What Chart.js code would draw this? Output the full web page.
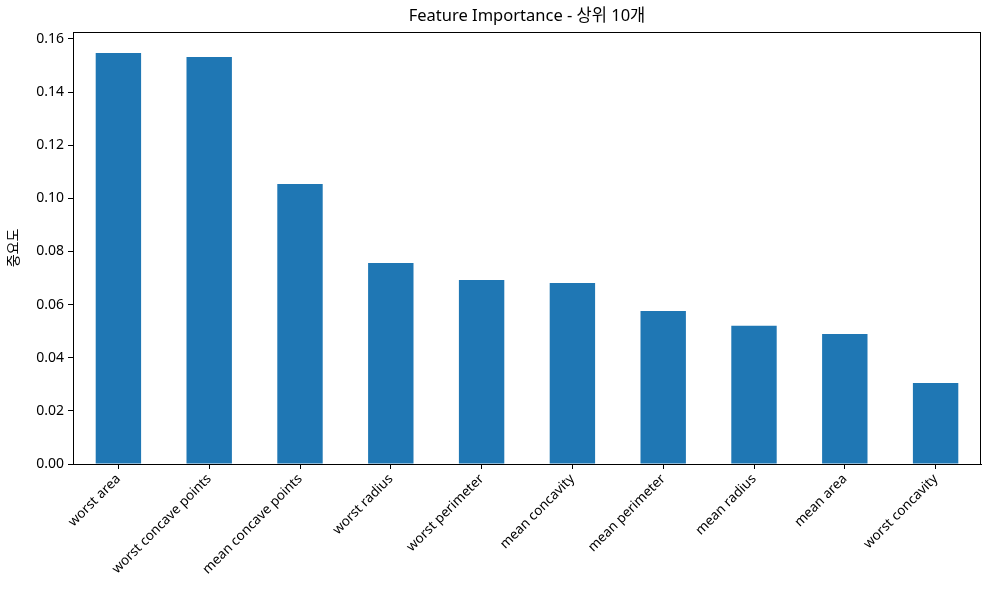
<!DOCTYPE html>
<html>
<head>
<meta charset="utf-8">
<script src="https://cdn.jsdelivr.net/npm/chart.js@4.4.0/dist/chart.umd.min.js"></script>
<style>
    html, body { margin: 0; padding: 0; background: #fff; }
    #wrap { width: 989px; height: 590px; }
</style>
</head>
<body>
<div id="wrap"><canvas id="importanceChart"></canvas></div>
<script>
// feature names, sorted by importance
const features = [
    "worst area", "worst concave points", "mean concave points", "worst radius",
    "worst perimeter", "mean concavity", "mean perimeter", "mean radius",
    "mean area", "worst concavity"
];
// importance values
const importances = [0.1547, 0.1532, 0.1054, 0.0757, 0.0693, 0.0681, 0.0576, 0.0520, 0.0489, 0.0305];
const yTicks = [0, 0.02, 0.04, 0.06, 0.08, 0.10, 0.12, 0.14, 0.16];
const chartTitle = "Feature Importance - 상위 10개";

const FONT = "'Noto Sans', 'Noto Sans CJK KR', sans-serif";

// matplotlib style full box around the plot, title centred over the axes
const boxPlugin = {
    id: "box",
    afterDraw(chart) {
        const { ctx, chartArea: a } = chart;
        ctx.save();
        ctx.strokeStyle = "#000";
        ctx.lineWidth = 1;
        ctx.strokeRect(a.left + 0.5, a.top + 0.5, a.right - a.left - 1, a.bottom - a.top);

        ctx.fillStyle = "#000";
        ctx.font = "16.5px " + FONT;
        ctx.textAlign = "center";
        ctx.textBaseline = "bottom";
        ctx.fillText(chartTitle, (a.left + a.right) / 2, a.top - 7);
        ctx.restore();
    }
};

document.addEventListener("DOMContentLoaded", () => {
    const ctx = document.getElementById("importanceChart").getContext("2d");
    new Chart(ctx, {
        type: "bar",
        data: {
            labels: features,
            datasets: [{
                label: "importance",
                data: importances,
                backgroundColor: "#1f77b4",
                borderWidth: 0,
                barPercentage: 0.5,
                categoryPercentage: 1
            }]
        },
        options: {
            responsive: true,
            maintainAspectRatio: false,
            animation: false,
            layout: { padding: { left: 0, right: 8, top: 32, bottom: 0 } },
            plugins: {
                legend: { display: false },
                tooltip: { enabled: false },
                title: { display: false }
            },
            scales: {
                x: {
                    offset: true,
                    grid: { offset: false, drawOnChartArea: false, drawTicks: true, tickLength: 5, color: "#000" },
                    border: { display: true, color: "#000", width: 1 },
                    ticks: {
                        color: "#000",
                        font: { family: FONT, size: 13.5 },
                        maxRotation: 45,
                        minRotation: 45,
                        autoSkip: false,
                        padding: 2
                    },
                    afterFit(scale) { scale.height = 126; }
                },
                y: {
                    min: 0,
                    max: 0.1626,
                    grid: { drawOnChartArea: false, drawTicks: true, tickLength: 5, color: "#000" },
                    border: { display: true, color: "#000", width: 1 },
                    afterBuildTicks(scale) {
                        scale.ticks = yTicks.map(v => ({ value: v }));
                    },
                    ticks: {
                        color: "#000",
                        font: { family: FONT, size: 14 },
                        padding: 4,
                        callback: v => v.toFixed(2)
                    },
                    title: {
                        display: true,
                        text: "중요도",
                        color: "#000",
                        font: { family: FONT, size: 14 },
                        padding: { top: 6, bottom: 2 }
                    },
                    afterFit(scale) { scale.width = 73; }
                }
            }
        },
        plugins: [boxPlugin]
    });
});
</script>
</body>
</html>
